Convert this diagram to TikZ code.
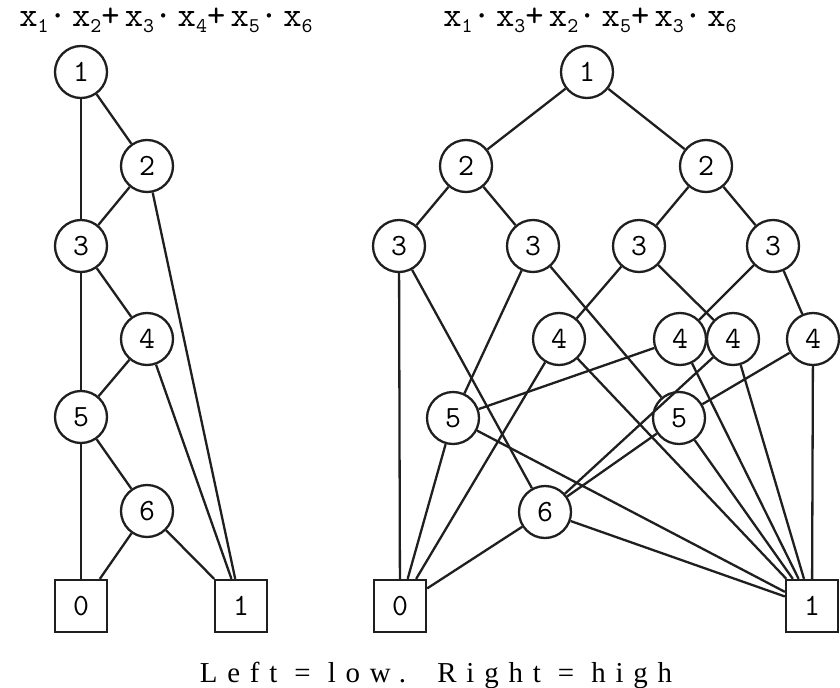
\documentclass[tikz,border=0pt]{standalone}
\usepackage{fontspec}
\setmainfont{Liberation Serif}
\newfontfamily\spacedf[LetterSpace=34]{Liberation Serif}
\newfontfamily\ttl[LetterSpace=15]{lmmono10-regular.otf}
\begin{document}
\begin{tikzpicture}[x=1bp,y=-1bp,
  line width=2.3bp, draw=black!88,
  vnode/.style={circle, draw=black!88, line width=2.3bp, minimum size=52bp, inner sep=0pt, font=\ttfamily\fontsize{31}{31}\selectfont},
  tnode/.style={rectangle, draw=black!88, line width=2.3bp, minimum size=52bp, inner sep=0pt, font=\ttfamily\fontsize{31}{31}\selectfont},
  edge/.style={draw=black!88, line width=2.3bp},
  titlef/.style={font=\ttl\fontsize{35}{35}\selectfont, inner sep=0pt, anchor=base}]
\useasboundingbox (0,0) rectangle (840,688);
\newcommand{\sbs}[1]{\raisebox{-6bp}{\fontsize{21}{21}\selectfont #1}}
% titles
\node[titlef] (tl) at (166,27) {x\sbs{1}·x\sbs{2}+x\sbs{3}·x\sbs{4}+x\sbs{5}·x\sbs{6}};
\node[titlef] (tr) at (590,27) {x\sbs{1}·x\sbs{3}+x\sbs{2}·x\sbs{5}+x\sbs{3}·x\sbs{6}};
% left diagram
\node[vnode] (a1) at (81,72) {1};
\node[vnode] (a2) at (147,166) {2};
\node[vnode] (a3) at (81,246) {3};
\node[vnode] (a4) at (147,339) {4};
\node[vnode] (a5) at (81,417) {5};
\node[vnode] (a6) at (147,511) {6};
\node[tnode] (a0) at (81,606) {0};
\node[tnode] (aI) at (241,606) {1};
\draw[edge] (a1) -- (a3);
\draw[edge] (a1) -- (a2);
\draw[edge] (a2) -- (a3);
\draw[edge] (a2) -- (aI);
\draw[edge] (a3) -- (a5);
\draw[edge] (a3) -- (a4);
\draw[edge] (a4) -- (a5);
\draw[edge] (a4) -- (aI);
\draw[edge] (a5) -- (a0);
\draw[edge] (a5) -- (a6);
\draw[edge] (a6) -- (a0);
\draw[edge] (a6) -- (aI);
% right diagram
\node[vnode] (b1) at (587,72) {1};
\node[vnode] (b2l) at (466,166) {2};
\node[vnode] (b2r) at (706,166) {2};
\node[vnode] (b3a) at (399,246) {3};
\node[vnode] (b3b) at (533,246) {3};
\node[vnode] (b3c) at (639,246) {3};
\node[vnode] (b3d) at (773,246) {3};
\node[vnode] (b4a) at (559,339) {4};
\node[vnode] (b4b) at (680,339) {4};
\node[vnode] (b4c) at (733,339) {4};
\node[vnode] (b4d) at (813,339) {4};
\node[vnode] (b5l) at (453,418) {5};
\node[vnode] (b5r) at (679,418) {5};
\node[vnode] (b6) at (545,512) {6};
\node[tnode] (b0) at (400,606) {0};
\node[tnode] (bI) at (812,606) {1};
\draw[edge] (b1) -- (b2l);
\draw[edge] (b1) -- (b2r);
\draw[edge] (b2l) -- (b3a);
\draw[edge] (b2l) -- (b3b);
\draw[edge] (b2r) -- (b3c);
\draw[edge] (b2r) -- (b3d);
\draw[edge] (b3a) -- (b0);
\draw[edge] (b3a) -- (b6);
\draw[edge] (b3b) -- (b5l);
\draw[edge] (b3b) -- (b5r);
\draw[edge] (b3c) -- (b4a);
\draw[edge] (b3c) -- (b4c);
\draw[edge] (b3d) -- (b4b);
\draw[edge] (b3d) -- (b4d);
\draw[edge] (b4a) -- (b0);
\draw[edge] (b4a) -- (bI);
\draw[edge] (b4b) -- (b5l);
\draw[edge] (b4b) -- (bI);
\draw[edge] (b4c) -- (b6);
\draw[edge] (b4c) -- (bI);
\draw[edge] (b4d) -- (b5r);
\draw[edge] (b4d) -- (bI);
\draw[edge] (b5l) -- (b0);
\draw[edge] (b5l) -- (bI);
\draw[edge] (b5r) -- (b6);
\draw[edge] (b5r) -- (bI);
\draw[edge] (b6) -- (b0);
\draw[edge] (b6) -- (bI);
% caption
\node[font=\spacedf\fontsize{29}{29}\selectfont, inner sep=0pt, anchor=base] (cap) at (436,682) {Left = low.\hspace{0.3em} Right = high};
\end{tikzpicture}
\end{document}
